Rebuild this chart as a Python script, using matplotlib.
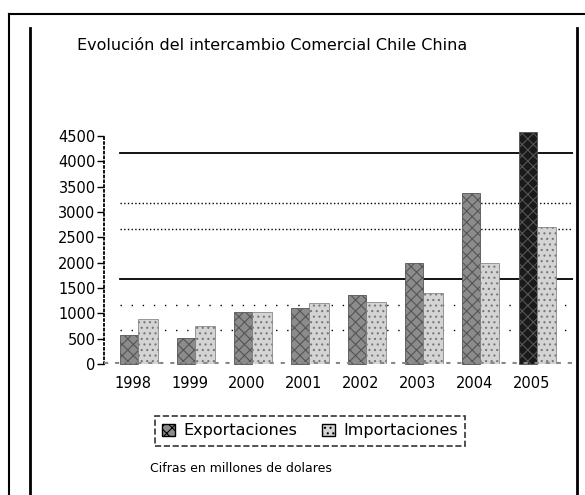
import matplotlib.pyplot as plt
from matplotlib.lines import Line2D
from matplotlib.patches import Patch
import numpy as np

# values (millones de dolares)
years = ['1998', '1999', '2000', '2001', '2002', '2003', '2004', '2005']
exportaciones = [570, 510, 1030, 1100, 1360, 1985, 3380, 4580]
importaciones = [880, 750, 1030, 1210, 1230, 1410, 1995, 2710]
y_ticks = [0, 500, 1000, 1500, 2000, 2500, 3000, 3500, 4000, 4500]

plt.rcParams['font.family'] = 'DejaVu Sans'
plt.rcParams['hatch.linewidth'] = 0.8

fig = plt.figure(figsize=(5.85, 4.95), dpi=100)

# outer page frame and inner rules
W, H = 585, 495
def fx(px): return px / W
def fy(py): return 1 - py / H
fig.add_artist(Line2D([fx(9), 1], [fy(14), fy(14)], color='black', lw=1.5))
fig.add_artist(Line2D([fx(9), fx(9)], [fy(14), 0], color='black', lw=1.5))
fig.add_artist(Line2D([fx(30), fx(30)], [fy(28), 0], color='black', lw=2))
fig.add_artist(Line2D([fx(577), fx(577)], [fy(28), 0], color='black', lw=2))

ax = fig.add_axes([fx(104), fy(364), fx(573) - fx(104), fy(136) - fy(364)])
x = np.arange(len(years))
w = 0.32

exp_colors = ['#8c8c8c'] * (len(years) - 1) + ['#1a1a1a']
ax.bar(x - 0.22, exportaciones, width=w, align='edge', color=exp_colors,
       edgecolor='#555555', hatch='xxx', linewidth=0.6, zorder=3, clip_on=False)
ax.bar(x + 0.10, importaciones, width=w + 0.02, align='edge', color='#d4d4d4',
       edgecolor='#777777', hatch='...', linewidth=0.5, zorder=3)

# back-wall grid (drawn slightly raised, like the 3D original)
depth = 170
sparse = (0, (1, 7))
grid_style = {500: sparse, 1000: sparse, 1500: '-', 2500: ':', 3000: ':', 4000: '-'}
for v, ls in grid_style.items():
    ax.axhline(v + depth, xmin=0.034, xmax=1, color='black',
               ls=ls, lw=1.3 if ls == '-' else 1.0, zorder=1)

# floor
ax.axhline(0, color='#888888', lw=3, ls=':', zorder=4)

ax.set_xlim(-0.5, 7.73)
ax.set_ylim(0, 4500)
ax.set_yticks(y_ticks)
ax.set_yticklabels([str(v) for v in y_ticks], fontsize=10.5)
ax.set_xticks(x)
ax.set_xticklabels(years, fontsize=10.5)
ax.tick_params(axis='x', length=0, pad=9)
ax.tick_params(axis='y', length=5, width=1, pad=1)

for s in ['top', 'right', 'bottom']:
    ax.spines[s].set_visible(False)
ax.spines['left'].set_linestyle(':')
ax.spines['left'].set_linewidth(1.3)

fig.text(fx(77), fy(45), 'Evolución del intercambio Comercial Chile China',
         fontsize=11.5, ha='left', va='center')

handles = [Patch(facecolor='#8c8c8c', edgecolor='black', hatch='xxx'),
           Patch(facecolor='#d4d4d4', edgecolor='black', hatch='...')]
leg = fig.legend(handles, ['Exportaciones', 'Importaciones'], ncol=2,
                 loc='center', bbox_to_anchor=(fx(310), fy(431)),
                 fontsize=11.5, frameon=True, fancybox=False,
                 handlelength=0.8, handleheight=0.8, handletextpad=0.5,
                 columnspacing=1.6, borderpad=0.45)
leg.get_frame().set_edgecolor('black')
leg.get_frame().set_linestyle('--')
leg.get_frame().set_linewidth(1.2)

fig.text(fx(150), fy(468), 'Cifras en millones de dolares',
         fontsize=9, ha='left', va='center')

fig.savefig('out.png', dpi=100)
